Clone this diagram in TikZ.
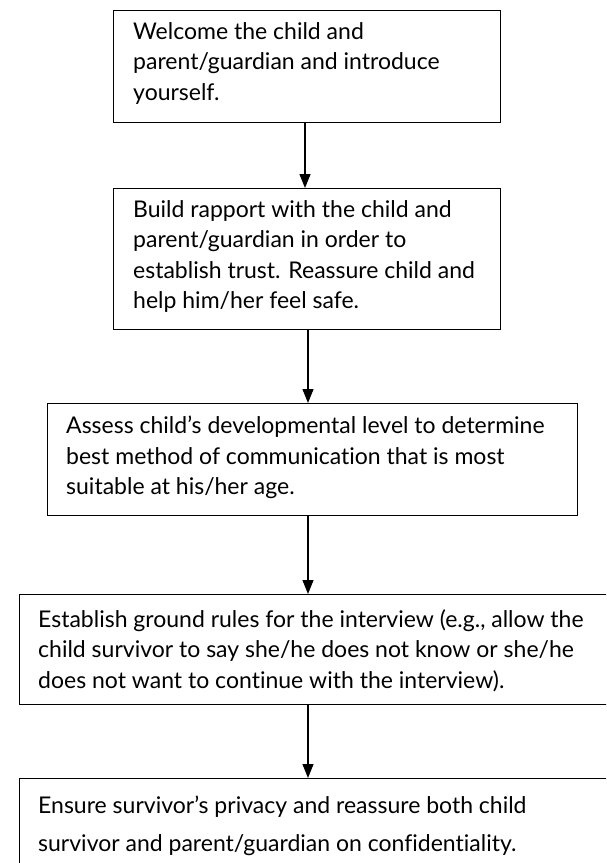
\documentclass[tikz,border=0pt]{standalone}
\usepackage{fontspec}
\setmainfont{Lato}[Ligatures=NoCommon]
\usetikzlibrary{arrows.meta}
\begin{document}
\begin{tikzpicture}[x=1pt,y=-1pt,
  box/.style={draw=black, line width=1.4pt, inner sep=0pt, anchor=north west},
  txt/.style={anchor=north west, inner sep=0pt, align=left, font=\fontsize{23}{30.5}\selectfont},
  flow/.style={draw=black, line width=1.2pt, -{Triangle[length=14pt,width=11pt]}}]
\useasboundingbox (0,0) rectangle (606,863);
\clip (0,0) rectangle (606,863);
\fill[white] (0,0) rectangle (606,863);
\node[box, minimum width=387pt, minimum height=112pt] (b1) at (113,10) {};
\node[box, minimum width=387pt, minimum height=141pt] (b2) at (113,188) {};
\node[box, minimum width=530pt, minimum height=112pt] (b3) at (47,403) {};
\node[box, minimum width=600pt, minimum height=110pt] (b4) at (19,594) {};
\node[box, minimum width=600pt, minimum height=110pt] (b5) at (19,778) {};
\node[txt] (t1) at (133,22) {Welcome the child and\\parent/guardian and introduce\\yourself.};
\node[txt] (t2) at (133,200) {Build rapport with the child and\\parent/guardian in order to\\establish trust. Reassure child and\\help him/her feel safe.};
\node[txt] (t3) at (66,416) {Assess child’s developmental level to determine\\best method of communication that is most\\suitable at his/her age.};
\node[txt] (t4) at (38,609) {Establish ground rules for the interview (e.g., allow the\\child survivor to say she/he does not know or she/he\\does not want to continue with the interview).};
\node[txt, font=\fontsize{23}{38}\selectfont] (t5) at (38,796) {Ensure survivor’s privacy and reassure both child\\survivor and parent/guardian on confidentiality.};
\coordinate (a1) at (305,122);
\coordinate (a2) at (308,329);
\coordinate (a3) at (308,515);
\coordinate (a4) at (308,704);
\draw[flow] (a1) -- (a1 |- b2.north);
\draw[flow] (a2) -- (a2 |- b3.north);
\draw[flow] (a3) -- (a3 |- b4.north);
\draw[flow] (a4) -- (a4 |- b5.north);
\end{tikzpicture}
\end{document}
